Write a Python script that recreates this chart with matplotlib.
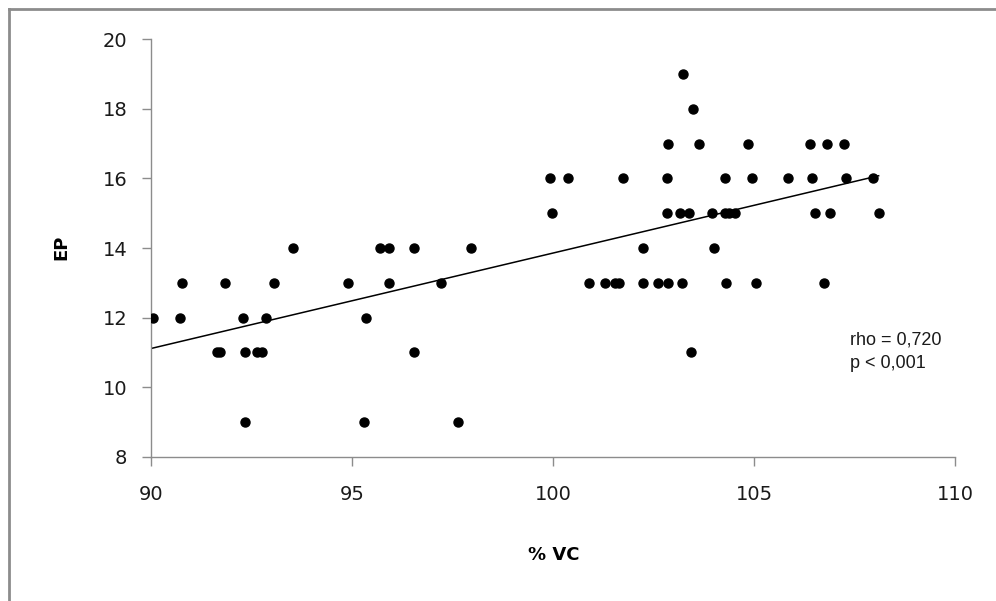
import matplotlib
matplotlib.use("Agg")
import matplotlib.pyplot as plt
import numpy as np
from matplotlib.lines import Line2D

# values, grouped by EP level
vc_19 = [103.23]
vc_18 = [103.47]
vc_17 = [102.85, 103.64, 104.86, 106.40, 106.82, 107.25]
vc_16 = [99.91, 100.37, 101.73, 102.83, 104.27, 104.95, 105.85, 106.43, 107.29, 107.97]
vc_15 = [99.98, 102.83, 103.15, 103.39, 103.94, 104.27, 104.37, 104.52, 106.52, 106.88, 108.10]
vc_14 = [93.52, 95.69, 95.92, 96.53, 97.96, 102.23, 104.00]
vc_13 = [90.76, 91.84, 93.04, 94.88, 95.90, 97.21, 100.90, 101.30, 101.55, 101.63,
         102.23, 102.61, 102.86, 103.20, 104.31, 105.05, 106.75]
vc_12 = [90.04, 90.70, 92.28, 92.85, 95.35]
vc_11 = [91.64, 91.71, 92.32, 92.63, 92.75, 96.53, 103.44]
vc_9 = [92.32, 95.28, 97.64]

groups = {19: vc_19, 18: vc_18, 17: vc_17, 16: vc_16, 15: vc_15,
          14: vc_14, 13: vc_13, 12: vc_12, 11: vc_11, 9: vc_9}
x = np.concatenate([np.array(v) for v in groups.values()])
y = np.concatenate([np.full(len(v), ep) for ep, v in groups.items()])

# trendline as drawn in the source (least squares over the data range)
slope, intercept = np.polyfit(x, y, 1)
line_x = np.array([90.0, x.max()])
line_y = slope * line_x + intercept

fig = plt.figure(figsize=(9.96, 6.01), dpi=100)
ax = fig.add_axes([0.1521, 0.2401, 0.9588 - 0.1521, 0.9346 - 0.2401])

ax.plot(line_x, line_y, color="black", lw=1.1, zorder=2)
ax.plot(x, y, "o", color="black", markersize=6.5, zorder=3)

ax.set_xlim(90, 110)
ax.set_ylim(8, 20)
ax.set_xticks(np.arange(90, 111, 5))
ax.set_yticks(np.arange(8, 21, 2))

for side in ("top", "right"):
    ax.spines[side].set_visible(False)
for side in ("left", "bottom"):
    ax.spines[side].set_color("#8c8c8c")
    ax.spines[side].set_linewidth(1.0)
ax.tick_params(axis="both", direction="out", length=6.5, width=1.0, color="#8c8c8c",
               labelsize=14, labelcolor="#1a1a1a")
ax.tick_params(axis="y", pad=11)
ax.tick_params(axis="x", pad=14)

fig.text(61 / 996, 1 - 247 / 601, "EP", rotation=90, ha="center", va="center",
         fontsize=13, fontweight="bold")
fig.text(554 / 996, 1 - 555 / 601, "% VC", ha="center", va="center",
         fontsize=13, fontweight="bold")

fig.text(850 / 996, 1 - 340 / 601, "rho = 0,720", ha="left", va="center",
         fontsize=13, family="Liberation Sans", color="#1a1a1a")
fig.text(850 / 996, 1 - 363 / 601, "p < 0,001", ha="left", va="center",
         fontsize=13, family="Liberation Sans", color="#1a1a1a")

# outer chart border (only left and top edges fall inside the picture)
fig.add_artist(Line2D([9 / 996, 9 / 996], [0, 1 - 8.5 / 601], color="#8c8c8c", lw=2.0))
fig.add_artist(Line2D([9 / 996, 1], [1 - 8.5 / 601, 1 - 8.5 / 601], color="#8c8c8c", lw=2.0))

fig.savefig("out.png", dpi=100)
